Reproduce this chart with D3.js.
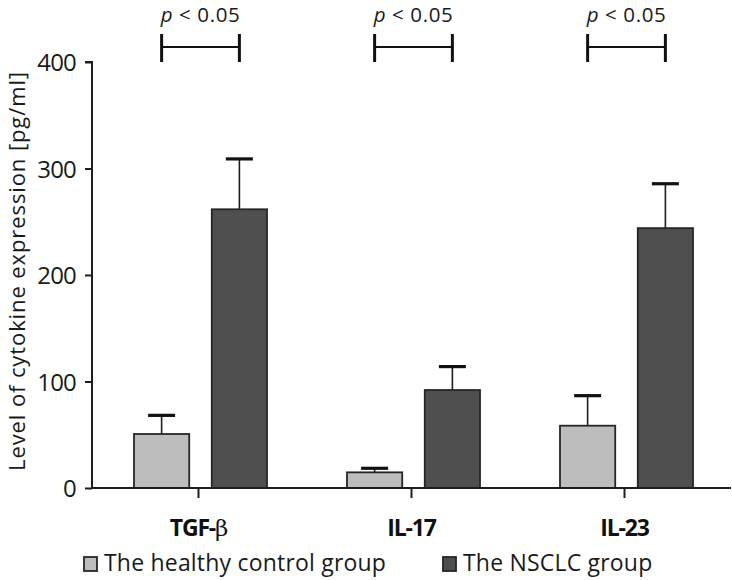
<!DOCTYPE html>
<html>
<head>
<meta charset="utf-8">
<script src="https://cdn.jsdelivr.net/npm/d3@7"></script>
<style>
  html, body { margin: 0; padding: 0; background: #fff; }
  svg { display: block; font-family: "Open Sans", "Noto Sans", sans-serif; }
</style>
</head>
<body>
<svg id="chart" width="732" height="580"></svg>
<script>
const categories = ["TGF-β", "IL-17", "IL-23"];
const groups = ["The healthy control group", "The NSCLC group"];
const controlMean = [50.7, 14.7, 58.5];
const controlSD = [17.5, 3.8, 28.2];
const nsclcMean = [261.7, 92.0, 244.0];
const nsclcSD = [47.3, 22.0, 41.7];
const yTicks = [0, 100, 200, 300, 400];
const pLabels = ["p < 0.05", "p < 0.05", "p < 0.05"];
const colors = ["#bdbdbd", "#4f4f4f"];

const svg = d3.select("#chart");
const axisColor = "#1e1e1e";

const y = d3.scaleLinear().domain([0, 400]).range([488, 62]);
const x0 = d3.scaleBand().domain(categories).range([92, 731]).paddingInner(0).paddingOuter(0);
const x1 = d3.scaleBand().domain(groups).range([42, 175]).paddingInner(0.29).paddingOuter(0);

const data = categories.map((c, i) => ({
  cat: c,
  vals: [
    { g: groups[0], mean: controlMean[i], sd: controlSD[i], color: colors[0] },
    { g: groups[1], mean: nsclcMean[i], sd: nsclcSD[i], color: colors[1] }
  ]
}));

const gCat = svg.selectAll("g.cat").data(data).join("g")
  .attr("class", "cat")
  .attr("transform", d => `translate(${x0(d.cat)},0)`);

gCat.selectAll("g.err").data(d => d.vals).join("g").attr("class", "err").each(function(d) {
  const g = d3.select(this);
  const cx = x1(d.g) + x1.bandwidth() / 2;
  g.append("line").attr("x1", cx).attr("x2", cx)
    .attr("y1", y(d.mean)).attr("y2", y(d.mean + d.sd))
    .attr("stroke", axisColor).attr("stroke-width", 1.6);
  g.append("line").attr("x1", cx - 13.5).attr("x2", cx + 13.5)
    .attr("y1", y(d.mean + d.sd)).attr("y2", y(d.mean + d.sd))
    .attr("stroke", "#111").attr("stroke-width", 3.2);
});

gCat.selectAll("rect").data(d => d.vals).join("rect")
  .attr("x", d => x1(d.g))
  .attr("width", x1.bandwidth())
  .attr("y", d => y(d.mean))
  .attr("height", d => y(0) - y(d.mean))
  .attr("fill", d => d.color)
  .attr("stroke", "#262626")
  .attr("stroke-width", 1.8);

// Y axis
const yAxis = d3.axisLeft(y).tickValues(yTicks).tickSize(7).tickPadding(9);
const gy = svg.append("g").attr("transform", "translate(92,0)").call(yAxis);
gy.select(".domain").attr("stroke", axisColor).attr("stroke-width", 2).attr("d", `M-7,${y(400)}H0V${y(0)}`);
gy.selectAll(".tick line").attr("stroke", axisColor).attr("stroke-width", 2);
gy.selectAll(".tick text").attr("fill", "#1a1a1a").style("font-size", "24px")
  .style("font-family", '"Open Sans", sans-serif').attr("dy", "0.36em").attr("letter-spacing", "-0.8px");

// X axis
const xAxis = d3.axisBottom(x0).tickSize(10).tickPadding(15);
const gx = svg.append("g").attr("transform", `translate(0,${y(0)})`).call(xAxis);
gx.select(".domain").attr("stroke", axisColor).attr("stroke-width", 2).attr("d", "M92,0H731");
gx.selectAll(".tick line").attr("stroke", axisColor).attr("stroke-width", 2);
gx.selectAll(".tick text").attr("fill", "#111").style("font-size", "23px")
  .style("font-weight", "bold").style("font-family", '"Open Sans", sans-serif')
  .attr("dy", "1.0em").attr("letter-spacing", "-1.2px");
gx.selectAll(".tick text").each(function(d) {
  const t = d3.select(this);
  if (d === "TGF-β") {
    t.text(null);
    t.append("tspan").text("TGF-");
    t.append("tspan").text("β").style("font-weight", "normal").style("font-family", '"DejaVu Serif", serif');
  }
});

// Y axis label
svg.append("text")
  .attr("transform", `translate(25,${271}) rotate(-90)`)
  .attr("text-anchor", "middle")
  .attr("fill", "#1a1a1a")
  .style("font-size", "22px")
  .attr("letter-spacing", "0.9px")
  .text("Level of cytokine expression [pg/ml]");

// Significance brackets
data.forEach((d, i) => {
  const xa = x0(d.cat) + x1(groups[0]) + x1.bandwidth() / 2;
  const xb = x0(d.cat) + x1(groups[1]) + x1.bandwidth() / 2;
  const g = svg.append("g");
  g.append("line").attr("x1", xa).attr("x2", xb).attr("y1", 47).attr("y2", 47)
    .attr("stroke", "#111").attr("stroke-width", 2);
  [xa, xb].forEach(xx => g.append("line").attr("x1", xx).attr("x2", xx)
    .attr("y1", 34).attr("y2", 62).attr("stroke", "#111").attr("stroke-width", 3));
  const t = g.append("text").attr("x", (xa + xb) / 2).attr("y", 22)
    .attr("text-anchor", "middle").attr("fill", "#1a1a1a").style("font-size", "20.5px")
    .attr("letter-spacing", "0.6px");
  const parts = pLabels[i].split(" ");
  t.append("tspan").style("font-style", "italic").text(parts[0]);
  t.append("tspan").text(" " + parts.slice(1).join(" "));
});

// Legend
const legendX = [83, 442];
groups.forEach((gname, i) => {
  const g = svg.append("g").attr("transform", `translate(${legendX[i]},556)`);
  g.append("rect").attr("x", 1).attr("y", 1).attr("width", 13).attr("height", 14)
    .attr("fill", colors[i]).attr("stroke", "#262626").attr("stroke-width", 1.8);
  g.append("text").attr("x", 21).attr("y", 15).attr("fill", "#1a1a1a")
    .style("font-size", "23px").attr("letter-spacing", "0.2px").text(gname);
});
</script>
</body>
</html>
